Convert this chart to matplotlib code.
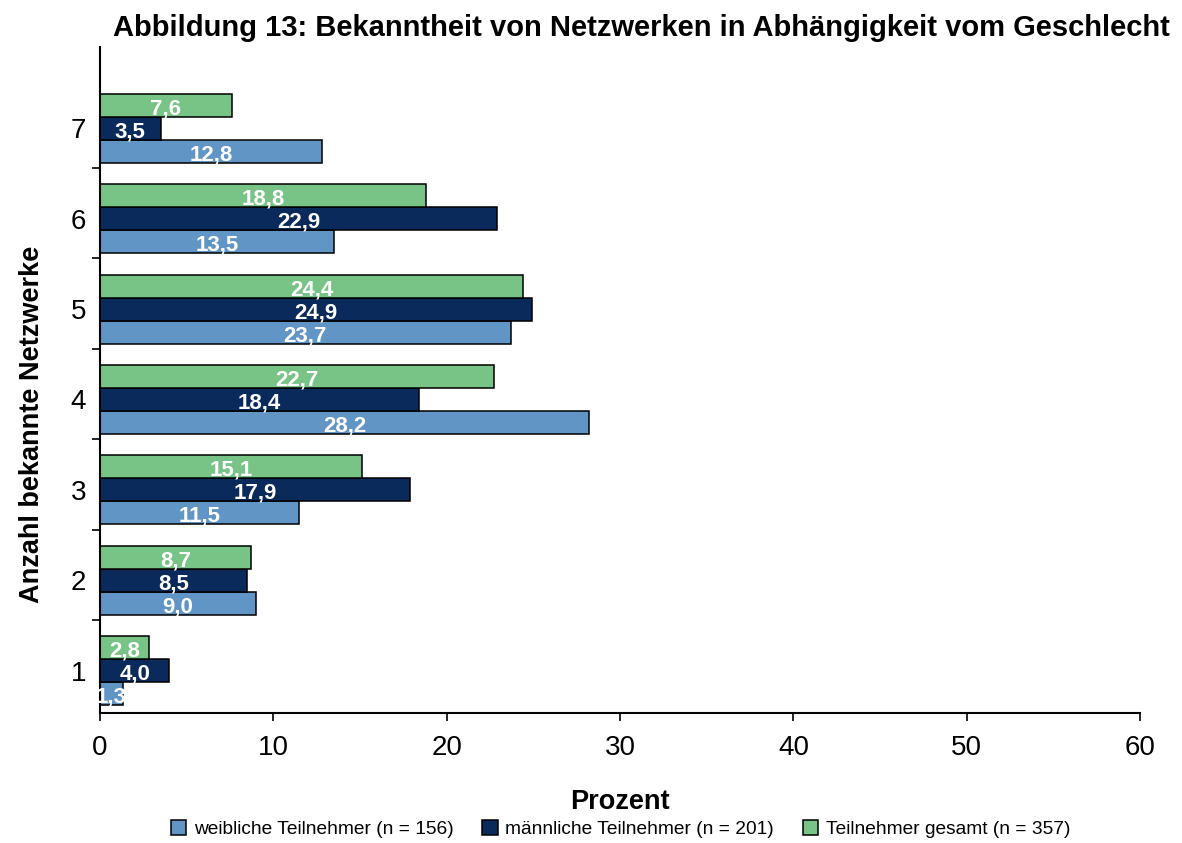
import numpy as np
import matplotlib
matplotlib.use("Agg")
import matplotlib.pyplot as plt
from matplotlib.ticker import FixedLocator

plt.rcParams['font.family'] = ['Liberation Sans', 'DejaVu Sans']

# Data
categories = [1, 2, 3, 4, 5, 6, 7]
weiblich = [1.3, 9.0, 11.5, 28.2, 23.7, 13.5, 12.8]
maennlich = [4.0, 8.5, 17.9, 18.4, 24.9, 22.9, 3.5]
gesamt = [2.8, 8.7, 15.1, 22.7, 24.4, 18.8, 7.6]
series_labels = ["weibliche Teilnehmer (n = 156)",
                 "männliche Teilnehmer (n = 201)",
                 "Teilnehmer gesamt (n = 357)"]
colors = ["#6195C5", "#0B2A5C", "#77C486"]

fig = plt.figure(figsize=(11.82, 8.43), dpi=100)
ax = fig.add_axes([0.0846, 0.1542, 0.88, 0.79])

y = np.array(categories, dtype=float)
h = 0.255
shift = -0.06
offsets = [-h, 0, h]

for vals, col, off, lab in zip([weiblich, maennlich, gesamt], colors, offsets, series_labels):
    pos = y + shift + off
    ax.barh(pos, vals, height=h, color=col, edgecolor="black", linewidth=1.1, label=lab)
    for p, v in zip(pos, vals):
        ax.text(v / 2, p - 0.04, f"{v:.1f}".replace(".", ","), ha="center", va="center",
                color="white", fontsize=16, fontweight="bold")

ax.set_xlim(0, 60)
ax.set_ylim(0.47, 7.84)
ax.set_xticks(range(0, 61, 10))
ax.set_yticks(y + shift)
ax.set_yticklabels([str(c) for c in categories])
ax.yaxis.set_minor_locator(FixedLocator([1.5, 2.5, 3.5, 4.5, 5.5, 6.5]))
ax.tick_params(axis="y", which="major", length=0, labelsize=20, pad=10)
ax.tick_params(axis="y", which="minor", length=6, width=1.2, direction="out")
ax.tick_params(axis="x", length=6, width=1.2, labelsize=20, pad=10)

for s in ["top", "right"]:
    ax.spines[s].set_visible(False)
for s in ["left", "bottom"]:
    ax.spines[s].set_linewidth(1.5)

ax.set_xlabel("Prozent", fontsize=19.5, fontweight="bold", labelpad=20)
ax.set_ylabel("Anzahl bekannte Netzwerke", fontsize=19.5, fontweight="bold")
ax.yaxis.set_label_coords(-0.053, 0.434)

fig.text(641 / 1182, 1 - 28 / 843, "Abbildung 13: Bekanntheit von Netzwerken in Abhängigkeit vom Geschlecht",
         ha="center", va="center", fontsize=21, fontweight="bold")

fig.legend(loc="center", bbox_to_anchor=(0.525, 1 - 829 / 843), ncol=3, frameon=False,
           fontsize=13.8, handlelength=0.8, handleheight=0.8, handletextpad=0.4, columnspacing=1.5)

fig.savefig("out.png", dpi=100)
